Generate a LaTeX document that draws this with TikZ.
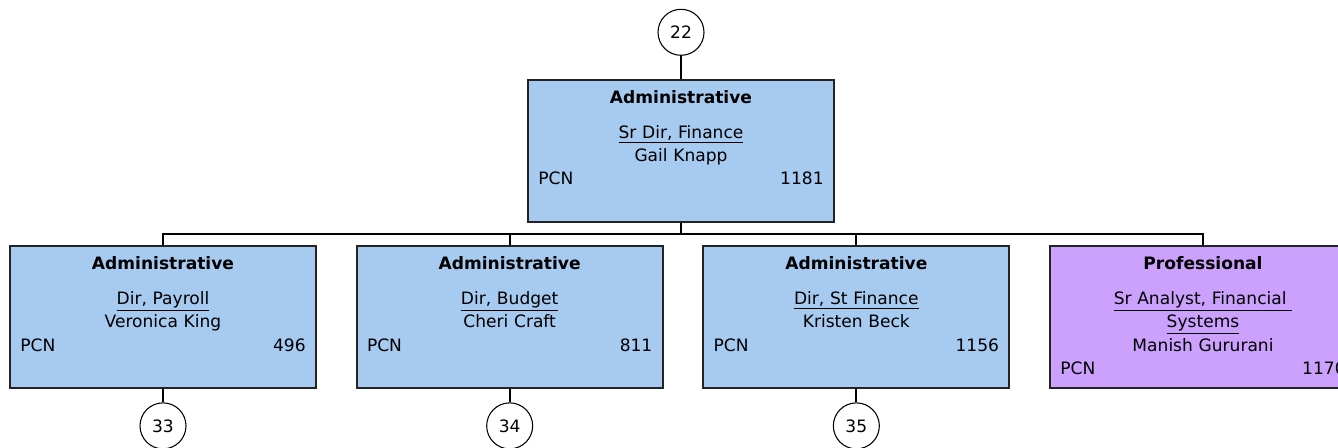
\documentclass[tikz,border=0pt]{standalone}
\usepackage{fontspec}
\setmainfont{DejaVu Sans}
\usepackage{xcolor}
\usepackage{tikz}
\usetikzlibrary{positioning}

\definecolor{adminblue}{RGB}{166,202,240}
\definecolor{profpurple}{RGB}{204,161,253}
\definecolor{boxline}{RGB}{35,35,35}

\begin{document}
\begin{tikzpicture}[
        x=0.75pt, y=-0.75pt,
        node distance=18pt and 29pt,
        card/.style={rectangle, draw=boxline, line width=1.5pt, minimum width=229.5pt, minimum height=106.5pt, inner sep=0pt},
        adminbox/.style={card, fill=adminblue},
        profbox/.style={card, fill=profpurple},
        cardtext/.style={text width=214pt, align=center, inner sep=0pt, font=\fontsize{12.8}{17.6}\selectfont},
        pagelink/.style={circle, draw=black, line width=0.8pt, fill=white, minimum size=34.5pt, inner sep=0pt, font=\fontsize{12.8}{14}\selectfont},
        link/.style={draw=black, line width=1.5pt},
    ]
        \useasboundingbox (0,0) rectangle (1338,447);
        \clip (0,0) rectangle (1338,447);

        % Boxes
        \node[adminbox] (sdir) at (681,150.5) {};
        \node[adminbox] (payroll) at (163,317) {};
        \node[adminbox, right=of payroll] (budget) {};
        \node[adminbox, right=of budget] (stfin) {};
        \node[profbox, right=of stfin] (analyst) {};

        % Box texts
        \node[cardtext, below=8.6pt of sdir.north] (sdir-t) {\textbf{Administrative}\\[8.5pt]\underline{Sr Dir, Finance}\\Gail Knapp\\\makebox[\linewidth]{PCN\hfill 1181}};
        \node[cardtext, below=8.6pt of payroll.north] (payroll-t) {\textbf{Administrative}\\[8.5pt]\underline{Dir, Payroll}\\Veronica King\\\makebox[\linewidth]{PCN\hfill 496}};
        \node[cardtext, below=8.6pt of budget.north] (budget-t) {\textbf{Administrative}\\[8.5pt]\underline{Dir, Budget}\\Cheri Craft\\\makebox[\linewidth]{PCN\hfill 811}};
        \node[cardtext, below=8.6pt of stfin.north] (stfin-t) {\textbf{Administrative}\\[8.5pt]\underline{Dir, St Finance}\\Kristen Beck\\\makebox[\linewidth]{PCN\hfill 1156}};
        \node[cardtext, below=8.6pt of analyst.north] (analyst-t) {\textbf{Professional}\\[8.5pt]\underline{Sr Analyst, Financial\ }\\\underline{Systems}\\Manish Gururani\\\makebox[\linewidth]{PCN\hfill 1170}};

        % Page links
        \node[pagelink, above=17pt of sdir] (n22) {22};
        \node[pagelink, below=10pt of payroll] (n33) {33};
        \node[pagelink, below=10pt of budget] (n34) {34};
        \node[pagelink, below=10pt of stfin] (n35) {35};

        % Connectors
        \draw[link] (n22) -- (sdir);
        \foreach \child in {payroll,budget,stfin,analyst}
            \draw[link] (sdir.south) -- ++(0,11) -| (\child.north);
        \draw[link] (payroll) -- (n33);
        \draw[link] (budget) -- (n34);
        \draw[link] (stfin) -- (n35);
    \end{tikzpicture}
\end{document}
